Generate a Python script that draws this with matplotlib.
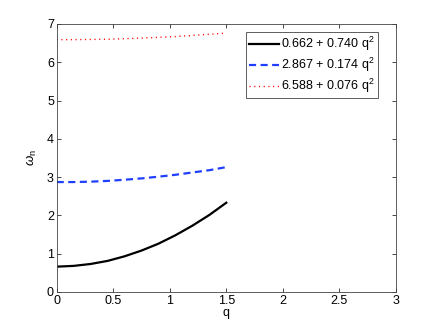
import matplotlib
matplotlib.use("Agg")
import matplotlib.pyplot as plt
import numpy as np

# values
q = [0.0, 0.15, 0.3, 0.45, 0.6, 0.75, 0.9, 1.05, 1.2, 1.35, 1.5]
w1 = [0.66, 0.68, 0.73, 0.81, 0.93, 1.08, 1.26, 1.48, 1.73, 2.01, 2.33]
w2 = [2.87, 2.87, 2.88, 2.90, 2.93, 2.965, 3.01, 3.06, 3.12, 3.18, 3.26]
w3 = [6.59, 6.59, 6.595, 6.60, 6.615, 6.63, 6.65, 6.67, 6.70, 6.73, 6.76]
labels = ["0.662 + 0.740 q$^2$", "2.867 + 0.174 q$^2$", "6.588 + 0.076 q$^2$"]

plt.rcParams['font.family'] = ['Liberation Sans', 'DejaVu Sans']
plt.rcParams['mathtext.fontset'] = 'custom'
plt.rcParams['mathtext.rm'] = 'Liberation Sans'
plt.rcParams['mathtext.it'] = 'Liberation Sans:italic'

fig = plt.figure(figsize=(4.36, 3.28), dpi=100)
ax = fig.add_axes([0.13, 0.11, 0.778, 0.817])

ax.plot(q, w1, color='black', linestyle='-', linewidth=1.6, label=labels[0])
ax.plot(q, w2, color='#1f3fff', linestyle='--', linewidth=1.6, dashes=(3.2, 2.0), label=labels[1])
ax.plot(q, w3, color='red', linestyle=':', linewidth=1, dashes=(0.8, 2.6), label=labels[2])

ax.set_xlim(0, 3)
ax.set_ylim(0, 7)
ax.set_xticks(np.arange(0, 3.01, 0.5))
ax.set_xticklabels(['0', '0.5', '1', '1.5', '2', '2.5', '3'])
ax.set_yticks(range(0, 8))
ax.tick_params(direction='in', top=True, right=True, length=3, width=0.5,
               labelsize=9, pad=2)
for s in ax.spines.values():
    s.set_linewidth(0.6)
    s.set_color('#444444')

ax.set_xlabel('q', fontsize=9, labelpad=0)
ax.set_ylabel(r'$\omega_{\rm n}$', fontsize=9.5, labelpad=6)

leg = ax.legend(loc='upper right', bbox_to_anchor=(0.947, 0.970), fontsize=9,
                fancybox=False, framealpha=1, edgecolor='#444444',
                handlelength=2.4, borderpad=0.25, labelspacing=0.22,
                handletextpad=0.15, borderaxespad=0)
leg.get_frame().set_linewidth(0.6)

fig.savefig('out.png', dpi=100)
